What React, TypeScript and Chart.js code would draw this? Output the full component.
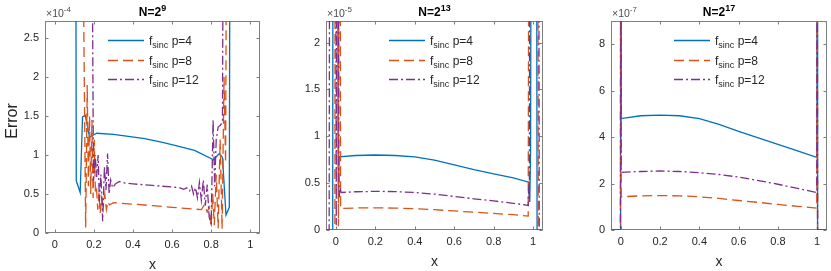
import React, { useEffect, useRef } from 'react';
import { Chart, registerables } from 'chart.js';

Chart.register(...registerables);

type Pt = [number, number];

// ---------------- data ----------------
const SERIES_LABELS = ['p=4', 'p=8', 'p=12'];
const X_TICKS = [0, 0.2, 0.4, 0.6, 0.8, 1];
const P1_Y_TICKS = [0, 0.5, 1, 1.5, 2, 2.5];
const P2_Y_TICKS = [0, 0.5, 1, 1.5, 2];
const P3_Y_TICKS = [0, 2, 4, 6, 8];

// Panel 1: N=2^9, values in units of 1e-4
const P1_P4: Pt[] = [
  [0, 9], [0.104, 9], [0.11, 0.67], [0.13, 0.52], [0.142, 1.49], [0.156, 1.51], [0.178, 1.23],
  [0.2, 1.26], [0.215, 1.28], [0.3, 1.265], [0.376, 1.24], [0.46, 1.21], [0.546, 1.165],
  [0.63, 1.115], [0.715, 1.06], [0.812, 0.94], [0.842, 1.02], [0.858, 0.97], [0.876, 0.23],
  [0.893, 0.33], [0.9, 9], [1, 9],
];
const P1_P8: Pt[] = [
  [0, 9], [0.125, 9], [0.158, 0.07], [0.166, 1.9], [0.172, 0.6], [0.178, 1.5], [0.184, 0.5],
  [0.19, 1.45], [0.196, 0.45], [0.202, 1.2], [0.208, 0.5], [0.214, 0.55], [0.22, 0.3],
  [0.226, 0.52], [0.232, 0.25], [0.24, 0.45], [0.248, 0.35], [0.256, 0.5], [0.264, 0.3],
  [0.272, 0.4], [0.28, 0.36], [0.3, 0.39], [0.4, 0.37], [0.5, 0.35], [0.6, 0.33], [0.7, 0.31],
  [0.75, 0.3], [0.765, 0.36], [0.78, 0.27], [0.79, 0.33], [0.8, 0.08], [0.808, 0.5], [0.816, 0.1],
  [0.826, 0.75], [0.836, 0.06], [0.846, 1.2], [0.856, 0.05], [0.866, 2.0], [0.874, 0.9],
  [0.886, 9], [1, 9],
];
const P1_P12: Pt[] = [
  [0, 9], [0.18, 9], [0.198, 0.67], [0.207, 1.0], [0.214, 0.72], [0.222, 1.0], [0.228, 0.4],
  [0.236, 0.75], [0.245, 0.15], [0.254, 0.85], [0.262, 0.55], [0.27, 1.02], [0.278, 0.5],
  [0.286, 0.68], [0.296, 0.58], [0.31, 0.63], [0.33, 0.66], [0.36, 0.64], [0.4, 0.63],
  [0.45, 0.62], [0.5, 0.61], [0.55, 0.6], [0.6, 0.59], [0.64, 0.58], [0.66, 0.56], [0.675, 0.58],
  [0.69, 0.54], [0.7, 0.6], [0.71, 0.5], [0.72, 0.58], [0.73, 0.45], [0.74, 0.65], [0.75, 0.42],
  [0.76, 0.68], [0.77, 0.35], [0.78, 0.62], [0.79, 0.2], [0.8, 0.12], [0.81, 1.45], [0.818, 0.6],
  [0.826, 1.2], [0.836, 1.36], [0.846, 1.38], [0.858, 1.42], [0.868, 9], [1, 9],
];

// Panel 2: N=2^13, values in units of 1e-5
const P2_P4: Pt[] = [
  [-0.05, 0], [-0.016, 0], [-0.014, 6], [0.008, 6], [0.011, 1.05], [0.013, 0.33], [0.016, 0.78],
  [0.1, 0.795], [0.2, 0.8], [0.3, 0.795], [0.4, 0.78], [0.5, 0.745], [0.6, 0.695], [0.7, 0.645],
  [0.8, 0.6], [0.9, 0.555], [0.978, 0.51], [0.983, 0.3], [0.987, 0.85], [0.992, 6], [1.016, 6],
  [1.02, 0], [1.05, 0],
];
const P2_P8: Pt[] = [
  [-0.05, 0], [-0.005, 0], [-0.003, 6], [0.01, 6], [0.013, 0.04], [0.017, 6], [0.02, 6],
  [0.024, 0.23], [0.1, 0.235], [0.2, 0.236], [0.3, 0.234], [0.4, 0.228], [0.5, 0.217],
  [0.6, 0.203], [0.7, 0.19], [0.8, 0.177], [0.9, 0.163], [0.975, 0.148], [0.98, 6], [1.022, 6],
  [1.026, 0], [1.05, 0],
];
const P2_P12: Pt[] = [
  [-0.05, 0], [-0.034, 0], [-0.03, 6], [-0.002, 6], [0.002, 0.05], [0.006, 6], [0.012, 6],
  [0.015, 0.6], [0.018, 0.35], [0.021, 0.45], [0.026, 0.4], [0.1, 0.408], [0.2, 0.412],
  [0.3, 0.41], [0.4, 0.4], [0.5, 0.383], [0.6, 0.358], [0.7, 0.333], [0.8, 0.31], [0.9, 0.285],
  [0.975, 0.262], [0.978, 0.5], [0.981, 0.3], [0.984, 6], [1.027, 6], [1.031, 0], [1.05, 0],
];

// Panel 3: N=2^17, values in units of 1e-7
const P3_P4: Pt[] = [
  [-0.05, 0], [-0.002, 0], [-0.001, 12], [0.001, 12], [0.002, 4.8], [0.1, 4.92], [0.2, 4.95],
  [0.3, 4.92], [0.4, 4.8], [0.5, 4.55], [0.6, 4.25], [0.7, 3.97], [0.8, 3.69], [0.9, 3.41],
  [0.998, 3.13], [0.999, 12], [1.001, 12], [1.002, 0], [1.05, 0],
];
const P3_P8: Pt[] = [
  [-0.05, 0], [-0.002, 0], [-0.001, 12], [0.001, 12], [0.002, 1.43], [0.1, 1.47], [0.2, 1.48],
  [0.3, 1.47], [0.4, 1.43], [0.5, 1.36], [0.6, 1.27], [0.7, 1.19], [0.8, 1.1], [0.9, 1.02],
  [0.998, 0.94], [0.999, 12], [1.001, 12], [1.002, 0], [1.05, 0],
];
const P3_P12: Pt[] = [
  [-0.05, 0], [-0.002, 0], [-0.001, 12], [0.001, 12], [0.002, 2.48], [0.1, 2.52], [0.2, 2.54],
  [0.3, 2.52], [0.4, 2.47], [0.5, 2.39], [0.6, 2.28], [0.7, 2.13], [0.8, 1.97], [0.9, 1.79],
  [0.998, 1.61], [0.999, 12], [1.001, 12], [1.002, 0], [1.05, 0],
];

// ---------------- styles ----------------
const COLORS = ['#0072BD', '#D95319', '#7E2F8E'];
const DASHES = [[], [10, 5], [9, 3, 2, 3]];
const FONT = '"Liberation Sans", Arial, Helvetica, sans-serif';
const TEXT = '#262626';
const AXIS = '#7f7f7f';
const H = 271;

interface PanelDef {
  left: number;
  width: number;
  plot: { l: number; r: number; t: number; b: number };
  yMax: number;
  yTicks: number[];
  series: Pt[][];
  nExp: string;
  yExp: string;
  yTitle?: string;
}

const PANELS: PanelDef[] = [
  { left: 0, width: 280, plot: { l: 45, r: 260, t: 21, b: 233 }, yMax: 2.72, yTicks: P1_Y_TICKS, series: [P1_P4, P1_P8, P1_P12], nExp: '9', yExp: '-4', yTitle: 'Error' },
  { left: 280, width: 280, plot: { l: 46, r: 263, t: 21, b: 230 }, yMax: 2.23, yTicks: P2_Y_TICKS, series: [P2_P4, P2_P8, P2_P12], nExp: '13', yExp: '-5' },
  { left: 560, width: 271, plot: { l: 51, r: 267, t: 21, b: 230 }, yMax: 9.0, yTicks: P3_Y_TICKS, series: [P3_P4, P3_P8, P3_P12], nExp: '17', yExp: '-7' },
];

type Run = { t: string; size: number; bold?: boolean; dy?: number; color?: string };

function fontStr(r: Run) {
  return `${r.bold ? 'bold ' : ''}${r.size}px ${FONT}`;
}
function runsWidth(ctx: CanvasRenderingContext2D, runs: Run[]) {
  let w = 0;
  for (const r of runs) {
    ctx.font = fontStr(r);
    w += ctx.measureText(r.t).width;
  }
  return w;
}
function drawRuns(ctx: CanvasRenderingContext2D, runs: Run[], x: number, y: number) {
  ctx.textAlign = 'left';
  ctx.textBaseline = 'alphabetic';
  for (const r of runs) {
    ctx.font = fontStr(r);
    ctx.fillStyle = r.color || TEXT;
    ctx.fillText(r.t, x, y + (r.dy || 0));
    x += ctx.measureText(r.t).width;
  }
}

const fmt = (v: number) => String(Number(v.toFixed(2)));

const decorPlugin = {
  id: 'decor',
  beforeDatasetsDraw(chart: any) {
    const o = chart.options.plugins.decor;
    const { ctx, chartArea: a } = chart;
    const xs = chart.scales.x;
    const ys = chart.scales.y;
    const L = a.left + 0.5, R = a.right - 0.5, T = a.top + 0.5, B = a.bottom - 0.5;
    ctx.save();
    ctx.setLineDash([]);
    ctx.strokeStyle = AXIS;
    ctx.lineWidth = 1;
    ctx.strokeRect(L, T, R - L, B - T);
    ctx.beginPath();
    const tl = 3;
    for (const v of X_TICKS) {
      const px = Math.round(xs.getPixelForValue(v)) + 0.5;
      ctx.moveTo(px, B); ctx.lineTo(px, B - tl);
      ctx.moveTo(px, T); ctx.lineTo(px, T + tl);
    }
    for (const v of o.yTicks) {
      const py = Math.round(ys.getPixelForValue(v)) + 0.5;
      ctx.moveTo(L, py); ctx.lineTo(L + tl, py);
      ctx.moveTo(R, py); ctx.lineTo(R - tl, py);
    }
    ctx.stroke();
    ctx.restore();
  },
  afterDraw(chart: any) {
    const o = chart.options.plugins.decor;
    const { ctx, chartArea: a } = chart;
    ctx.save();
    const cx = (a.left + a.right) / 2;
    // title
    const title: Run[] = [
      { t: 'N=2', size: 12, bold: true, color: '#000' },
      { t: o.nExp, size: 9, bold: true, dy: -5, color: '#000' },
    ];
    drawRuns(ctx, title, cx - runsWidth(ctx, title) / 2, 16);
    // exponent
    drawRuns(ctx, [
      { t: '\u00d710', size: 10.5, color: '#4d4d4d' },
      { t: o.yExp, size: 8, dy: -5.5, color: '#4d4d4d' },
    ], a.left + 1, 17);
    // x label
    ctx.font = `14px ${FONT}`;
    ctx.fillStyle = TEXT;
    ctx.textAlign = 'center';
    ctx.textBaseline = 'alphabetic';
    ctx.fillText('x', cx, a.bottom + 36);
    if (o.yTitle) {
      ctx.save();
      ctx.translate(17, (a.top + a.bottom) / 2 - 6);
      ctx.rotate(-Math.PI / 2);
      ctx.font = `16px ${FONT}`;
      ctx.textAlign = 'center';
      ctx.fillText(o.yTitle, 0, 0);
      ctx.restore();
    }
    // legend
    const rows = [19, 38.5, 58];
    chart.data.datasets.forEach((ds: any, i: number) => {
      const y = Math.round(a.top + rows[i]) + 0.5;
      ctx.save();
      ctx.strokeStyle = ds.borderColor;
      ctx.lineWidth = ds.borderWidth;
      ctx.setLineDash(ds.borderDash || []);
      ctx.beginPath();
      ctx.moveTo(a.left + 63, y);
      ctx.lineTo(a.left + 99, y);
      ctx.stroke();
      ctx.restore();
      drawRuns(ctx, [
        { t: 'f', size: 12 },
        { t: 'sinc', size: 9, dy: 3 },
        { t: ' ' + ds.label, size: 12 },
      ], a.left + 104, y + 4);
    });
    ctx.restore();
  },
};

function Panel({ def }: { def: PanelDef }) {
  const ref = useRef<HTMLCanvasElement>(null);
  useEffect(() => {
    if (!ref.current) return;
    const p = def.plot;
    const chart = new Chart(ref.current, {
      type: 'line',
      data: {
        datasets: def.series.map((pts, i) => ({
          label: SERIES_LABELS[i],
          data: pts.map(([x, y]) => ({ x, y })),
          borderColor: COLORS[i],
          backgroundColor: COLORS[i],
          borderWidth: 1.3,
          borderDash: DASHES[i],
          pointRadius: 0,
          tension: 0,
          fill: false,
          order: 3 - i,
        })),
      },
      options: {
        animation: false,
        responsive: false,
        maintainAspectRatio: false,
        devicePixelRatio: 1,
        events: [],
        layout: { padding: { left: 0, top: p.t, right: def.width - p.r, bottom: 0 } },
        scales: {
          x: {
            type: 'linear',
            min: -0.05,
            max: 1.05,
            afterBuildTicks: (s: any) => { s.ticks = X_TICKS.map((v) => ({ value: v })); },
            afterFit: (s: any) => { s.height = H - p.b; },
            ticks: {
              font: { family: FONT, size: 11 }, color: TEXT, padding: 5,
              maxRotation: 0, autoSkip: false, callback: (v: any) => fmt(Number(v)),
            },
            grid: { display: false, drawTicks: false },
            border: { display: false },
          },
          y: {
            type: 'linear',
            min: 0,
            max: def.yMax,
            afterBuildTicks: (s: any) => { s.ticks = def.yTicks.map((v) => ({ value: v })); },
            afterFit: (s: any) => { s.width = p.l; },
            ticks: {
              font: { family: FONT, size: 11 }, color: TEXT, padding: 6,
              autoSkip: false, callback: (v: any) => fmt(Number(v)),
            },
            grid: { display: false, drawTicks: false },
            border: { display: false },
          },
        },
        plugins: {
          legend: { display: false },
          tooltip: { enabled: false },
          title: { display: false },
          decor: { yTicks: def.yTicks, nExp: def.nExp, yExp: def.yExp, yTitle: def.yTitle },
        } as any,
      },
      plugins: [decorPlugin],
    } as any);
    return () => chart.destroy();
  }, [def]);
  return (
    <canvas
      ref={ref}
      width={def.width}
      height={H}
      style={{ position: 'absolute', left: def.left, top: 0, width: def.width, height: H }}
    />
  );
}

export default function App() {
  return (
    <div style={{ position: 'fixed', left: 0, top: 0, width: 831, height: H, background: '#fff' }}>
      {PANELS.map((d, i) => (
        <Panel key={i} def={d} />
      ))}
    </div>
  );
}
